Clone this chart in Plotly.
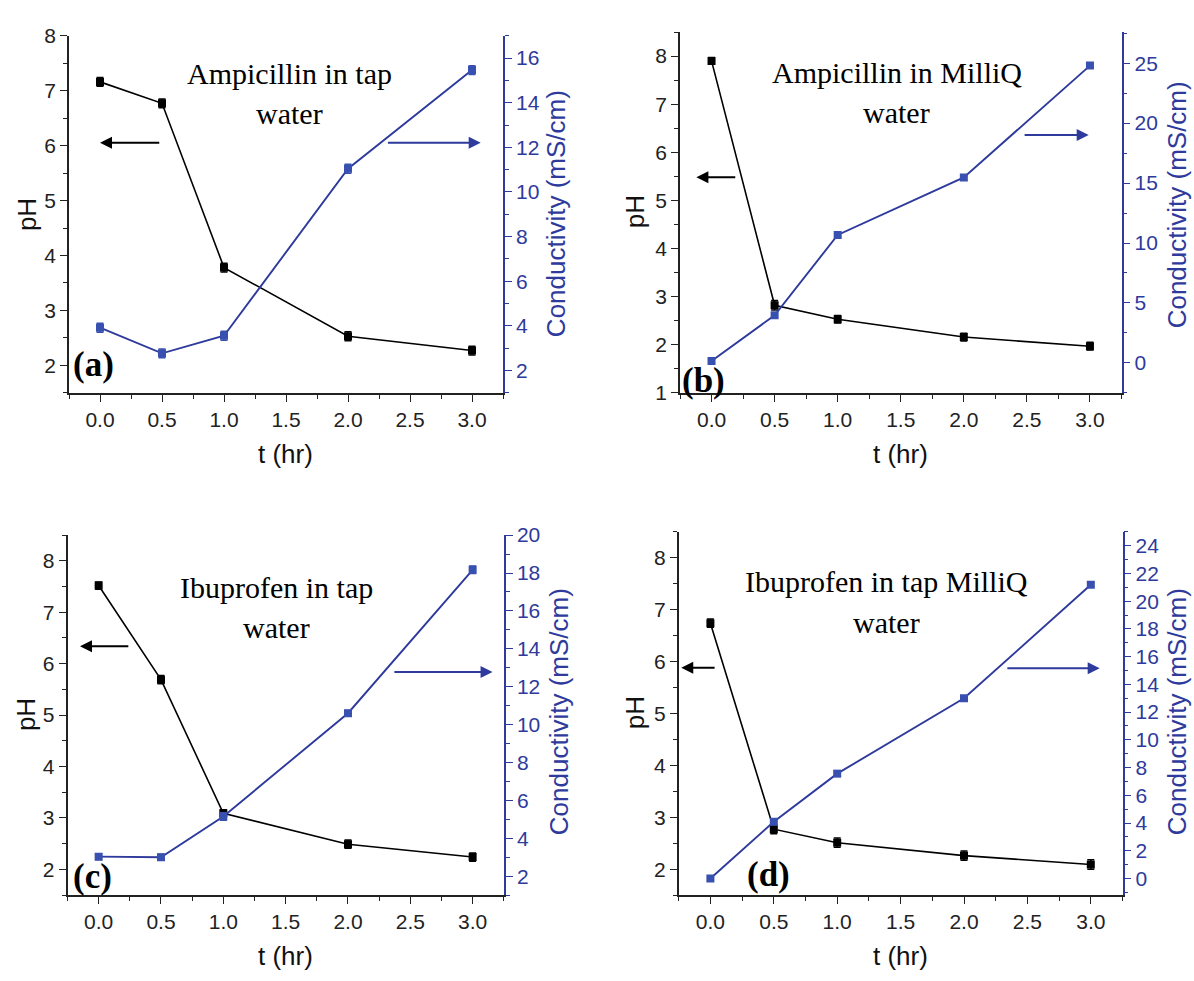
import plotly.graph_objects as go

# ---------------- data ----------------
t_hr = [0.0, 0.5, 1.0, 2.0, 3.0]

ph_a = [7.16, 6.77, 3.78, 2.53, 2.27]
cond_a = [3.92, 2.77, 3.56, 11.04, 15.46]
ph_err_a = [0.08, 0.08, 0.08, 0.08, 0.08]
cond_err_a = [0.2, 0.2, 0.2, 0.2, 0.2]

ph_b = [7.90, 2.82, 2.53, 2.16, 1.97]
cond_b = [0.16, 3.97, 10.67, 15.47, 24.8]
ph_err_b = [0.07, 0.1, 0.08, 0.08, 0.08]
cond_err_b = [0.15, 0.15, 0.15, 0.15, 0.15]

ph_c = [7.52, 5.69, 3.09, 2.49, 2.24]
cond_c = [3.03, 3.0, 5.15, 10.6, 18.17]
ph_err_c = [0.07, 0.08, 0.07, 0.08, 0.08]
cond_err_c = [0.15, 0.15, 0.2, 0.15, 0.2]

ph_d = [6.74, 2.77, 2.51, 2.26, 2.09]
cond_d = [0.0, 4.09, 7.56, 13.0, 21.18]
ph_err_d = [0.08, 0.09, 0.09, 0.09, 0.09]
cond_err_d = [0.15, 0.2, 0.15, 0.15, 0.15]

titles = [["Ampicillin in tap", "water"],
          ["Ampicillin in MilliQ", "water"],
          ["Ibuprofen in tap", "water"],
          ["Ibuprofen in tap MilliQ", "water"]]
labels = ["(a)", "(b)", "(c)", "(d)"]

# ---------------- styling ----------------
BLUE = "#2e3a9c"
BLUE_M = "#3850b0"
SANS = "Liberation Sans, Arial, sans-serif"
SERIF = "Liberation Serif, Times New Roman, serif"
W, H = 1194, 981

panels = [
    dict(ph=ph_a, cond=cond_a, phe=ph_err_a, ce=cond_err_a,
         px=(69, 503), py=(24.3, 390), phr=[1.5, 8], cr=[1, 17], phd=1, cd=2, cdm=1, ctick0=2,
         title_xy=(1.53, 7.32, 6.59), lab=(-0.05, 2.02),
         larr=((0.49, 6.05), (0.0, 6.05)), rarr=((2.31, 6.05), (3.07, 6.05)),
         ph_title=(27, 208), t_title=(285, 453), c_title=(556, 207)),
    dict(ph=ph_b, cond=cond_b, phe=ph_err_b, ce=cond_err_b,
         px=(680, 1121.5), py=(20.5, 390), phr=[1, 8.5], cr=[-2.5, 27.6], phd=1, cd=5, cdm=2.5, ctick0=0,
         title_xy=(1.47, 7.66, 6.82), lab=(-0.06, 1.26),
         larr=((0.2, 5.48), (-0.12, 5.48)), rarr=((2.47, 6.36), (2.99, 6.36)),
         ph_title=(635, 205), t_title=(900, 453), c_title=(1177, 198)),
    dict(ph=ph_c, cond=cond_c, phe=ph_err_c, ce=cond_err_c,
         px=(67.5, 503.8), py=(535.7, 904.3), phr=[1.5, 8.5], cr=[1, 20], phd=1, cd=2, cdm=1, ctick0=2,
         title_xy=(1.43, 7.49, 6.70), lab=(-0.05, 1.86),
         larr=((0.25, 6.34), (-0.15, 6.34)), rarr=((2.36, 5.84), (3.16, 5.84)),
         ph_title=(26, 720), t_title=(285, 967), c_title=(559, 717)),
    dict(ph=ph_d, cond=cond_d, phe=ph_err_d, ce=cond_err_d,
         px=(678.7, 1122.5), py=(532.3, 904.3), phr=[1.5, 8.5], cr=[-1.2, 25], phd=1, cd=2, cdm=1, ctick0=0,
         title_xy=(1.39, 7.54, 6.76), lab=(0.46, 1.89),
         larr=((0.045, 5.88), (-0.23, 5.88)), rarr=((2.33, 5.87), (3.07, 5.87)),
         ph_title=(635, 718), t_title=(900, 967), c_title=(1177, 717)),
]

fig = go.Figure()
layout = dict(width=W, height=H, margin=dict(l=0, r=0, t=0, b=0),
              paper_bgcolor="white", plot_bgcolor="white", showlegend=False)
annotations = []

for i, p in enumerate(panels):
    n = i + 1
    xa = "x" if n == 1 else f"x{n}"
    ya_ph = "y" if n == 1 else f"y{2*n-1}"
    ya_c = f"y{2*n}"
    xkey = "xaxis" if n == 1 else f"xaxis{n}"
    ykey_ph = "yaxis" if n == 1 else f"yaxis{2*n-1}"
    ykey_c = f"yaxis{2*n}"
    xtop_key = f"xaxis{4+n}"

    xdom = [p["px"][0] / W, p["px"][1] / W]
    ydom = [1 - p["py"][1] / H, 1 - p["py"][0] / H]

    fig.add_trace(go.Scatter(
        x=t_hr, y=p["ph"], xaxis=xa, yaxis=ya_ph, mode="lines+markers",
        line=dict(color="black", width=1.6),
        marker=dict(symbol="square", size=8, color="black"),
        error_y=dict(type="data", array=p["phe"], color="black", thickness=1.5, width=3.5),
        hoverinfo="x+y"))
    fig.add_trace(go.Scatter(
        x=t_hr, y=p["cond"], xaxis=xa, yaxis=ya_c, mode="lines+markers",
        line=dict(color=BLUE, width=1.9),
        marker=dict(symbol="square", size=8, color=BLUE_M),
        error_y=dict(type="data", array=p["ce"], color=BLUE_M, thickness=1.5, width=3.5),
        hoverinfo="x+y"))

    tickfont = dict(family=SANS, size=21, color="#222222")
    layout[xkey] = dict(domain=xdom, anchor=ya_ph, range=[-0.25, 3.25],
                        tick0=0, dtick=0.5, tickformat=".1f",
                        showline=True, linecolor="#222222", linewidth=1.5,
                        ticks="outside", ticklen=7, tickwidth=1.2, tickcolor="#222222",
                        minor=dict(dtick=0.25, ticks="outside", ticklen=4, tickcolor="#222222"),
                        showgrid=False, zeroline=False, tickfont=tickfont)
    layout[xtop_key] = dict(overlaying=xa, anchor=ya_ph, side="top", range=[-0.25, 3.25],
                            tick0=0, dtick=0.5, showticklabels=False,
                            showline=True, linecolor=BLUE, linewidth=1.8,
                            ticks="inside", ticklen=6, tickwidth=1.2, tickcolor=BLUE,
                            minor=dict(dtick=0.25, ticks="inside", ticklen=4, tickcolor=BLUE),
                            showgrid=False, zeroline=False)
    layout[ykey_ph] = dict(domain=ydom, anchor=xa, range=p["phr"], tick0=0, dtick=p["phd"],
                           showline=True, linecolor="#222222", linewidth=1.5,
                           ticks="outside", ticklen=7, tickwidth=1.2, tickcolor="#222222",
                           minor=dict(dtick=p["phd"] / 2, ticks="outside", ticklen=4, tickcolor="#222222"),
                           showgrid=False, zeroline=False, tickfont=tickfont)
    layout[ykey_c] = dict(overlaying=ya_ph, anchor=xa, side="right", range=p["cr"],
                          tick0=p["ctick0"], dtick=p["cd"],
                          showline=True, linecolor=BLUE, linewidth=1.8,
                          ticks="outside", ticklen=7, tickwidth=1.2, tickcolor=BLUE,
                          minor=dict(dtick=p["cdm"], ticks="outside", ticklen=4, tickcolor=BLUE),
                          showgrid=False, zeroline=False,
                          tickfont=dict(family=SANS, size=21, color=BLUE))

    # in-plot title text
    tx, ty1, ty2 = p["title_xy"]
    for txt, ty in zip(titles[i], (ty1, ty2)):
        annotations.append(dict(x=tx, y=ty, xref=xa, yref=ya_ph, text=txt, showarrow=False,
                                font=dict(family=SERIF, size=30, color="black"),
                                xanchor="center", yanchor="middle"))
    # panel label
    annotations.append(dict(x=p["lab"][0], y=p["lab"][1], xref=xa, yref=ya_ph,
                            text=f"<b>{labels[i]}</b>", showarrow=False,
                            font=dict(family=SERIF, size=35, color="black"),
                            xanchor="center", yanchor="middle"))
    # arrows
    (lt, lh), (rt, rh) = (p["larr"][0], p["larr"][1]), (p["rarr"][0], p["rarr"][1])
    annotations.append(dict(x=lh[0], y=lh[1], ax=lt[0], ay=lt[1], xref=xa, yref=ya_ph,
                            axref=xa, ayref=ya_ph, text="", showarrow=True,
                            arrowhead=2, arrowsize=1.2, arrowwidth=2, arrowcolor="black"))
    annotations.append(dict(x=rh[0], y=rh[1], ax=rt[0], ay=rt[1], xref=xa, yref=ya_ph,
                            axref=xa, ayref=ya_ph, text="", showarrow=True,
                            arrowhead=2, arrowsize=1.2, arrowwidth=2, arrowcolor=BLUE))
    # axis titles
    annotations.append(dict(x=p["ph_title"][0] / W, y=1 - p["ph_title"][1] / H, xref="paper", yref="paper",
                            text="pH", textangle=-90, showarrow=False,
                            font=dict(family=SANS, size=26, color="#111111"),
                            xanchor="center", yanchor="middle"))
    annotations.append(dict(x=p["t_title"][0] / W, y=1 - p["t_title"][1] / H, xref="paper", yref="paper",
                            text="t (hr)", showarrow=False,
                            font=dict(family=SANS, size=26, color="#111111"),
                            xanchor="center", yanchor="middle"))
    annotations.append(dict(x=p["c_title"][0] / W, y=1 - p["c_title"][1] / H, xref="paper", yref="paper",
                            text="Conductivity (mS/cm)", textangle=-90, showarrow=False,
                            font=dict(family=SANS, size=26, color=BLUE),
                            xanchor="center", yanchor="middle"))

layout["annotations"] = annotations
fig.update_layout(**layout)
fig.write_html("out.html")
